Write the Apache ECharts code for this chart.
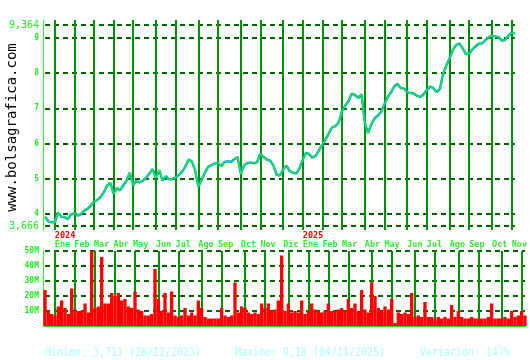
<!DOCTYPE html>
<html><head><meta charset="utf-8">
<script src="https://cdn.jsdelivr.net/npm/echarts@6/dist/echarts.min.js"></script>
<style>html,body{margin:0;padding:0;background:#fff}#c{width:530px;height:360px}</style>
</head><body><div id="c"></div>
<script>
const dates = [
'2023-12-18','2023-12-22','2023-12-27','2024-01-02','2024-01-08','2024-01-12','2024-01-19','2024-01-25','2024-01-31','2024-02-05',
'2024-02-09','2024-02-14','2024-02-19','2024-02-23','2024-02-28','2024-03-04','2024-03-08','2024-03-14','2024-03-19','2024-03-25',
'2024-03-28','2024-04-03','2024-04-08','2024-04-12','2024-04-18','2024-04-22','2024-04-26','2024-05-02','2024-05-07','2024-05-10',
'2024-05-16','2024-05-21','2024-05-24','2024-05-30','2024-06-05','2024-06-10','2024-06-14','2024-06-19','2024-06-24','2024-06-28',
'2024-07-04','2024-07-08','2024-07-12','2024-07-17','2024-07-22','2024-07-26','2024-07-31','2024-08-05','2024-08-09','2024-08-14',
'2024-08-19','2024-08-23','2024-08-28','2024-09-02','2024-09-06','2024-09-11','2024-09-16','2024-09-20','2024-09-25','2024-09-30',
'2024-10-04','2024-10-09','2024-10-14','2024-10-18','2024-10-23','2024-10-28','2024-11-01','2024-11-06','2024-11-11','2024-11-15',
'2024-11-20','2024-11-25','2024-11-29','2024-12-05','2024-12-10','2024-12-13','2024-12-18','2024-12-23','2024-12-30','2025-01-03',
'2025-01-09','2025-01-13','2025-01-17','2025-01-23','2025-01-27','2025-02-03','2025-02-06','2025-02-10','2025-02-14','2025-02-20',
'2025-02-24','2025-03-03','2025-03-06','2025-03-11','2025-03-14','2025-03-20','2025-03-26','2025-03-31','2025-04-04','2025-04-09',
'2025-04-14','2025-04-18','2025-04-22','2025-04-28','2025-05-02','2025-05-06','2025-05-12','2025-05-16','2025-05-21','2025-05-26',
'2025-05-30','2025-06-05','2025-06-10','2025-06-13','2025-06-19','2025-06-24','2025-06-27','2025-07-03','2025-07-08','2025-07-11',
'2025-07-17','2025-07-22','2025-07-25','2025-07-31','2025-08-05','2025-08-08','2025-08-14','2025-08-19','2025-08-22','2025-08-28',
'2025-09-02','2025-09-05','2025-09-11','2025-09-16','2025-09-19','2025-09-25','2025-09-30','2025-10-03','2025-10-09','2025-10-14',
'2025-10-17','2025-10-23','2025-10-27','2025-11-03','2025-11-06'
];
const price = [
3.93,3.80,3.77,3.77,4.05,3.93,3.92,3.86,4.00,4.02,
3.96,4.00,4.10,4.15,4.24,4.36,4.40,4.48,4.62,4.80,
4.90,4.58,4.74,4.68,4.82,4.95,5.18,4.83,4.94,4.90,
4.95,5.04,5.15,5.28,5.04,5.25,4.95,5.08,4.99,5.00,
5.04,5.11,5.20,5.35,5.55,5.50,5.25,4.78,4.98,5.18,
5.34,5.39,5.44,5.46,5.36,5.48,5.50,5.48,5.56,5.62,
5.15,5.38,5.45,5.47,5.44,5.48,5.72,5.62,5.55,5.52,
5.38,5.12,5.10,5.28,5.38,5.22,5.18,5.15,5.30,5.55,
5.74,5.70,5.60,5.66,5.82,5.98,6.12,6.30,6.46,6.50,
6.60,6.92,7.08,7.20,7.42,7.38,7.30,7.40,6.60,6.30,
6.55,6.72,6.80,6.90,7.12,7.32,7.45,7.62,7.70,7.58,
7.56,7.46,7.44,7.42,7.36,7.32,7.40,7.52,7.62,7.58,
7.46,7.55,7.98,8.22,8.42,8.65,8.80,8.84,8.70,8.54,
8.56,8.68,8.76,8.84,8.84,8.94,9.02,9.06,9.04,9.02,
8.92,8.94,9.06,9.15,9.12
];
const volume = [
24,10,8,7,13,17,12,8,25,11,
10,10,15,9,55,12,13,46,15,15,
22,20,22,17,18,13,12,23,11,10,
7,7,8,38,18,10,22,9,23,7,
6,7,12,7,9,7,17,12,6,5,
5,5,5,12,7,6,7,29,9,13,
12,9,8,9,8,15,12,15,10,11,
17,47,10,15,9,10,9,17,8,10,
15,11,10,9,10,15,10,10,11,12,
10,18,12,15,10,24,11,9,29,20,
12,10,13,11,18,2,9,8,9,8,
22,6,7,6,16,6,6,5,6,5,
6,5,14,6,10,6,5,5,6,5,
5,5,5,6,15,5,5,5,6,5,
10,6,7,10,7
];
const priceTicks = [4, 5, 6, 7, 8, 9];
const priceExtremes = [3.666, 9.364];
const volumeTicks = [10, 20, 30, 40, 50];
const monthNames = ['Ene','Feb','Mar','Abr','May','Jun','Jul','Ago','Sep','Oct','Nov','Dic'];
const siteName = 'www.bolsagrafica.com';
const footer = ['Minimo: 3,711 (28/12/2023)', 'Maximo: 9,18 (04/11/2025)', 'Variación: 147%'];

const MONO = 'DejaVu Sans Mono';
const monthOf = s => parseInt(s.slice(5, 7), 10) - 1;
const isMonthStart = (idx) => idx > 0 && monthOf(dates[idx]) !== monthOf(dates[idx - 1]);
const priceLevels = priceExtremes.concat(priceTicks).sort((a, b) => a - b);
const isExtreme = v => priceExtremes.some(e => Math.abs(e - v) < 1e-6);

const chart = echarts.init(document.getElementById('c'), null, {renderer: 'canvas'});
const vSplit = {show: true, interval: (i) => isMonthStart(i), lineStyle: {color: '#009100', width: 2, type: 'solid'}};
const hSplit = {show: true, lineStyle: {color: '#006400', width: 2, type: [5, 4]}};

chart.setOption({
  animation: false,
  backgroundColor: '#ffffff',
  grid: [
    {left: 45, top: 20, right: 5, height: 210},
    {left: 45, top: 251, right: 5, height: 75}
  ],
  xAxis: [
    {
      type: 'category', gridIndex: 0, data: dates, boundaryGap: false,
      axisLine: {show: false}, axisTick: {show: false},
      splitLine: vSplit,
      axisLabel: {
        show: true, interval: 0, align: 'left', margin: 1,
        showMinLabel: true, showMaxLabel: true, hideOverlap: false,
        formatter: (v, idx) => {
          if (!isMonthStart(idx)) return '';
          const m = monthOf(v);
          return (m === 0 ? '{y|' + v.slice(0, 4) + '}' : '{y| }') + '\n{m|' + monthNames[m] + '}';
        },
        rich: {
          y: {color: '#ff0000', fontFamily: MONO, fontSize: 8.5, fontWeight: 'bold', lineHeight: 9},
          m: {color: '#33ee33', fontFamily: MONO, fontSize: 8.5, fontWeight: 'bold', lineHeight: 9}
        }
      }
    },
    {
      type: 'category', gridIndex: 1, data: dates, boundaryGap: false,
      axisLine: {show: true, lineStyle: {color: '#22dd22', width: 2}},
      axisTick: {show: false}, axisLabel: {show: false},
      splitLine: vSplit
    }
  ],
  yAxis: [
    {
      type: 'value', gridIndex: 0, min: 3.553, max: 9.506, offset: 2,
      axisLine: {show: true, lineStyle: {color: '#33ee33', width: 1}},
      axisTick: {show: false, customValues: priceLevels},
      splitLine: hSplit,
      axisLabel: {
        show: true, customValues: priceLevels, margin: 4,
        formatter: (v) => isExtreme(v) ? '{b|' + v.toFixed(3).replace('.', ',') + '}' : '{s|' + v + '}',
        rich: {
          b: {color: '#22ee22', fontFamily: MONO, fontSize: 10},
          s: {color: '#22ee22', fontFamily: MONO, fontSize: 8, fontWeight: 'bold'}
        }
      }
    },
    {
      type: 'value', gridIndex: 1, min: 0, max: 50, interval: 10, offset: 2,
      axisLine: {show: true, lineStyle: {color: '#33ee33', width: 1}},
      axisTick: {show: false},
      splitLine: hSplit,
      axisLabel: {
        show: true, margin: 4, color: '#22ee22', fontFamily: MONO, fontSize: 8, fontWeight: 'bold',
        formatter: (v) => volumeTicks.includes(v) ? v + 'M' : ''
      }
    }
  ],
  series: [
    {type: 'line', xAxisIndex: 0, yAxisIndex: 0, data: price, showSymbol: false, silent: true,
     lineStyle: {color: '#00a8b8', width: 2.5}, z: 5},
    {type: 'line', xAxisIndex: 0, yAxisIndex: 0, data: price, showSymbol: false, silent: true,
     lineStyle: {color: '#22ff22', width: 1}, z: 6},
    {type: 'bar', xAxisIndex: 1, yAxisIndex: 1, data: volume, barCategoryGap: '0%', silent: true,
     itemStyle: {color: '#ff0000'}, z: 5}
  ],
  graphic: [
    {type: 'text', x: 12.5, y: 127.5, rotation: Math.PI / 2,
     style: {text: siteName, fontFamily: MONO, fontSize: 14, fill: '#000000', textAlign: 'center', textVerticalAlign: 'middle'}},
    {type: 'text', x: 45, y: 353, scaleX: 0.83,
     style: {text: footer[0], fontFamily: MONO, fontSize: 12, fill: '#aaffff', textAlign: 'left', textVerticalAlign: 'middle'}},
    {type: 'text', x: 235, y: 353, scaleX: 0.83,
     style: {text: footer[1], fontFamily: MONO, fontSize: 12, fill: '#aaffff', textAlign: 'left', textVerticalAlign: 'middle'}},
    {type: 'text', x: 420, y: 353, scaleX: 0.83,
     style: {text: footer[2], fontFamily: MONO, fontSize: 12, fill: '#aaffff', textAlign: 'left', textVerticalAlign: 'middle'}}
  ]
});
</script>
</body></html>
